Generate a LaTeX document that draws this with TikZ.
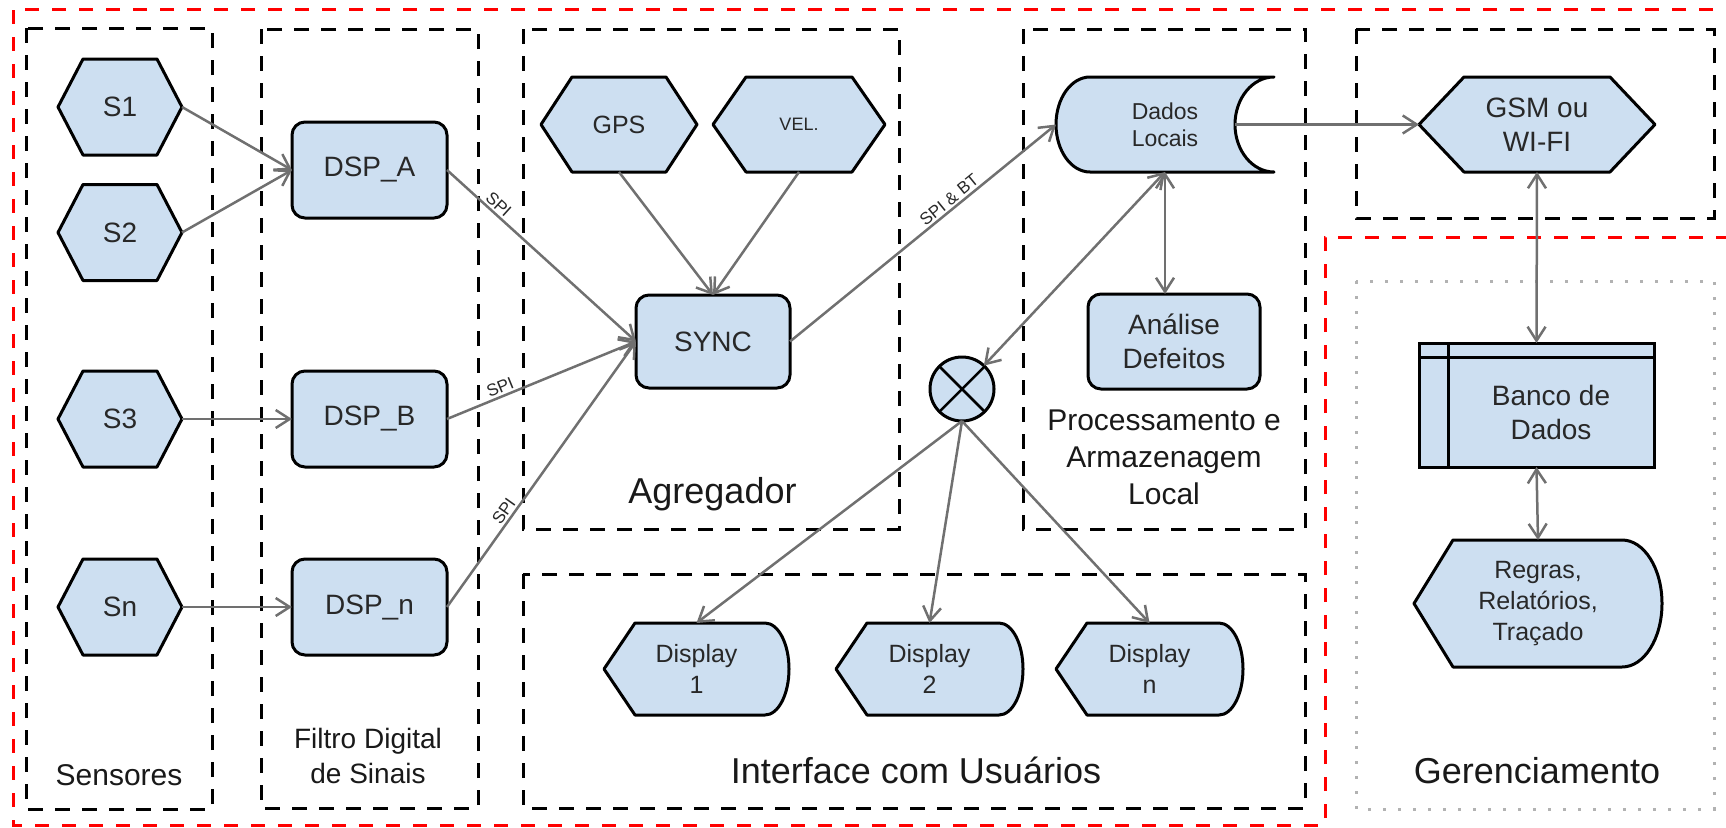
\documentclass[tikz,border=0pt]{standalone}
\usepackage{fontspec}
\setmainfont{Liberation Sans}
\usetikzlibrary{arrows.meta,calc}
\definecolor{nfill}{RGB}{205,223,241}
\definecolor{edgec}{RGB}{112,112,112}
\definecolor{ntxt}{RGB}{40,40,40}
\pgfdeclarelayer{bg}
\pgfdeclarelayer{shapes}
\pgfsetlayers{bg,shapes,main}
\tikzset{
  tipb/.tip={Straight Barb[length=14pt,width=18pt]},
  f18/.style={font=\fontsize{18}{22}\selectfont},
  f23/.style={font=\fontsize{23}{27}\selectfont},
  f25/.style={font=\fontsize{25}{31}\selectfont},
  f28/.style={font=\fontsize{28}{34}\selectfont},
  f28b/.style={font=\fontsize{28}{35}\selectfont},
  f30/.style={font=\fontsize{30}{37}\selectfont},
  f36/.style={font=\fontsize{36}{42}\selectfont},
  ntext/.style={inner sep=0pt, outer sep=0pt, align=center, text=ntxt},
  nborder/.style={draw=black, line width=3pt, fill=nfill, line join=round},
  rbox/.style={ntext, rectangle, rounded corners=13pt, draw=black, line width=3pt, fill=nfill},
  cbox/.style={draw=black, line width=3pt, dash pattern=on 15pt off 12pt},
  redbox/.style={draw=red, line width=3pt, dash pattern=on 14pt off 13pt},
  dotbox/.style={draw=black!30, line width=3pt, dash pattern=on 3pt off 12pt},
  conn/.style={draw=edgec, line width=2.5pt, -tipb},
  dconn/.style={draw=edgec, line width=2.5pt, tipb-tipb},
  elabel/.style={font=\fontsize{17}{17}\selectfont, text=ntxt, sloped, above, inner sep=2pt},
  glabel/.style={inner sep=0pt, align=center, text=black!90},
}
\newcommand{\hexnode}[7]{%
  \node[ntext, #6, minimum width=#3pt, minimum height=#4pt] (#1) at #2 {#7};
  \begin{pgfonlayer}{shapes}
  \path[nborder] (#1.west) -- ([xshift=#5pt]#1.north west) -- ([xshift=-#5pt]#1.north east) -- (#1.east) -- ([xshift=-#5pt]#1.south east) -- ([xshift=#5pt]#1.south west) -- cycle;
  \end{pgfonlayer}}
\newcommand{\dispnode}[8]{%
  \node[ntext, #7, minimum width=#3pt, minimum height=#4pt] (#1) at #2 {#8};
  \begin{pgfonlayer}{shapes}
  \path[nborder] (#1.west) -- ([xshift=#5pt]#1.north west) -- ([xshift=-#6pt]#1.north east) arc[start angle=90, end angle=-90, x radius=#6pt, y radius=#4pt/2] -- ([xshift=#5pt]#1.south west) -- cycle;
  \end{pgfonlayer}}
\begin{document}
\begin{tikzpicture}[x=1pt,y=-1pt]
\useasboundingbox (0,0) rectangle (1726,827);
\begin{pgfonlayer}{bg}
 \draw[redbox] (1740,9) -- (13,9) -- (13,825) -- (1325,825);
 \draw[redbox] (1325,845) -- (1325,237) -- (1740,237);
 \draw[cbox] (26,28) rectangle (212,809);
 \draw[cbox] (261,29) rectangle (478,808);
 \draw[cbox] (523,29) rectangle (899,529);
 \draw[cbox] (1023,29) rectangle (1305,529);
 \draw[cbox] (1356,29) rectangle (1714,218);
 \draw[cbox] (523,574) rectangle (1305,808);
 \draw[dotbox] (1356,281) rectangle (1714,809);
\end{pgfonlayer}

% sensors
\hexnode{S1}{(120,107)}{124}{96}{25}{f28}{S1}
\hexnode{S2}{(120,232.5)}{124}{96}{25}{f28}{S2}
\hexnode{S3}{(120,419)}{124}{96}{25}{f28}{S3}
\hexnode{Sn}{(120,607)}{124}{96}{25}{f28}{Sn}
% DSP
\node[rbox, f28, minimum width=155pt, minimum height=96pt] (DSPA) at (369.5,170) {DSP\_A};
\node[rbox, f28, minimum width=155pt, minimum height=96pt] (DSPB) at (369.5,419) {DSP\_B};
\node[rbox, f28, minimum width=155pt, minimum height=96pt] (DSPn) at (369.5,607) {DSP\_n};
% aggregator
\hexnode{GPS}{(619,124.5)}{156}{95}{31}{f25}{GPS}
\hexnode{VEL}{(799,124.5)}{172}{95}{33}{f18}{VEL.}
\node[rbox, f28, minimum width=154pt, minimum height=93pt] (SYNC) at (713,341.5) {SYNC};
% local storage
\node[ntext, f23, minimum width=218pt, minimum height=95pt] (DL) at (1165,124.5) {Dados\\Locais};
\begin{pgfonlayer}{shapes}
\path[nborder] ([xshift=34pt]DL.north west) arc[start angle=90, end angle=270, x radius=34pt, y radius=47.5pt] -- (DL.south east) arc[start angle=270, end angle=90, x radius=39pt, y radius=47.5pt] -- cycle;
\end{pgfonlayer}
\node[rbox, f28, minimum width=172pt, minimum height=95pt] (ANA) at (1174,341.5) {Análise\\Defeitos};
\node[circle, draw=black, line width=3pt, fill=nfill, minimum size=64pt, inner sep=0pt, outer sep=0pt] (X) at (962,389) {};
\draw[line width=2.5pt] (X.north west) -- (X.south east) (X.north east) -- (X.south west);
% displays
\dispnode{D1}{(696.5,669)}{185}{92}{31}{24}{f25}{Display\\1}
\dispnode{D2}{(929.5,669)}{187}{92}{31}{24}{f25}{Display\\2}
\dispnode{Dn}{(1149.5,669)}{187}{92}{31}{24}{f25}{Display\\n}
% communication and management
\hexnode{GSM}{(1537,124.5)}{236}{95}{45}{f28}{GSM ou\\WI-FI}
\node[ntext, draw=black, line width=3pt, fill=nfill, minimum width=235pt, minimum height=124pt] (BANCO) at (1536.5,405) {};
\draw[line width=3pt] ([yshift=-14pt]BANCO.north west) -- ([yshift=-14pt]BANCO.north east);
\draw[line width=3pt] ([xshift=29pt]BANCO.north west) -- ([xshift=29pt]BANCO.south west);
\node[ntext, f28] (BANCOT) at ([shift={(14.5,7)}]BANCO.center) {Banco de\\Dados};
\dispnode{REG}{(1538,603.5)}{248}{127}{39}{40}{f25}{Regras,\\Relatórios,\\Traçado}

% group labels
\node[glabel, f30] (Lsens) at (119,775) {Sensores};
\node[glabel, f28b] (Lfil) at (368,756) {Filtro Digital\\de Sinais};
\node[glabel, f36] (Lagr) at (712.5,494) {Agregador};
\node[glabel, f30] (Lproc) at (1164,457) {Processamento e\\Armazenagem\\Local};
\node[glabel, f36] (Lint) at (916,770.5) {Interface com Usuários};
\node[glabel, f36] (Lger) at (1537,771) {Gerenciamento};

% connectors
\draw[conn] (S1.east) -- (DSPA.west);
\draw[conn] (S2.east) -- (DSPA.west);
\draw[conn] (S3.east) -- (DSPB.west);
\draw[conn] (Sn.east) -- (DSPn.west);
\draw[conn] (DSPA.east) -- node[elabel, pos=0.24] {SPI} (SYNC.west);
\draw[conn] (DSPB.east) -- node[elabel, pos=0.30] {SPI} (SYNC.west);
\draw[conn] (DSPn.east) -- node[elabel, pos=0.34] {SPI} (SYNC.west);
\draw[conn] (GPS.south) -- (SYNC.north);
\draw[conn] (VEL.south) -- (SYNC.north);
\draw[conn] (SYNC.east) -- node[elabel, pos=0.62] {SPI \& BT} (DL.west);
\draw[dconn] (DL.south) -- (DL.south |- ANA.north);
\draw[dconn] (DL.south) -- (X);
\draw[conn] (X.south) -- (D1.north);
\draw[conn] (X.south) -- (D2.north);
\draw[conn] (X.south) -- (Dn.north);
\draw[conn] ([xshift=-39pt]DL.east) -- (GSM.west);
\draw[dconn] (GSM.south) -- (BANCO.north);
\draw[dconn] (BANCO.south) -- (REG.north);
\end{tikzpicture}
\end{document}
